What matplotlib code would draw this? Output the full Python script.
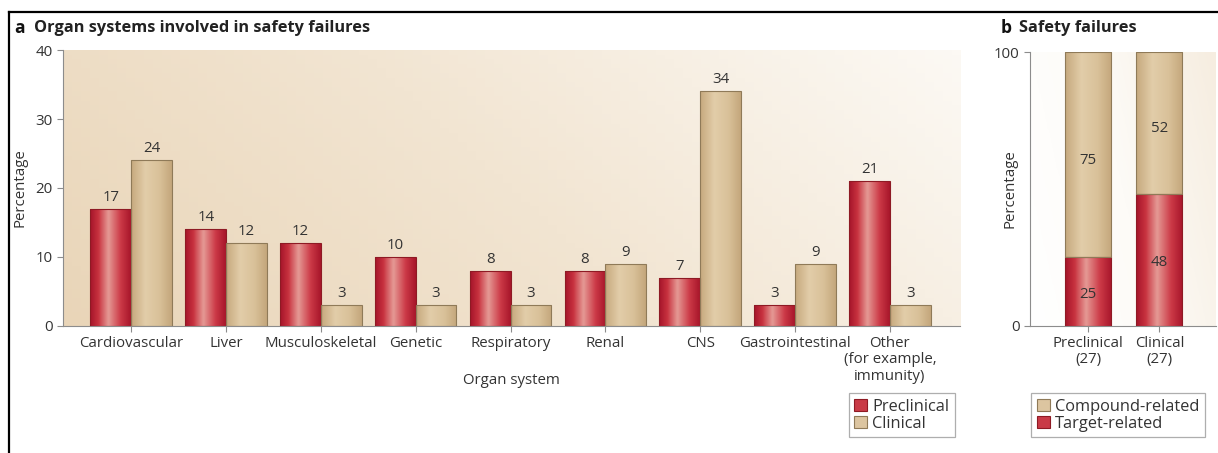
import numpy as np
import matplotlib.pyplot as plt
from matplotlib.colors import LinearSegmentedColormap
from matplotlib.patches import Patch
from matplotlib.lines import Line2D

plt.rcParams['font.family'] = ['Open Sans', 'DejaVu Sans']

# data
categories = ['Cardiovascular', 'Liver', 'Musculoskeletal', 'Genetic', 'Respiratory',
              'Renal', 'CNS', 'Gastrointestinal', 'Other\n(for example,\nimmunity)']
preclinical = [17, 14, 12, 10, 8, 8, 7, 3, 21]
clinical = [24, 12, 3, 3, 3, 9, 34, 9, 3]

b_groups = ['Preclinical\n(27)', 'Clinical\n(27)']
target_related = [25, 48]
compound_related = [75, 52]

txt = '#333333'
spine_c = '#8c8c8c'
fs = 10.8
red_cmap = LinearSegmentedColormap.from_list(
    'red', [(0, '#a5142a'), (0.2, '#c8323f'), (0.45, '#e59a95'), (0.75, '#cc3a47'), (1, '#a8162b')])
tan_cmap = LinearSegmentedColormap.from_list(
    'tan', [(0, '#c6a97e'), (0.35, '#e2cda9'), (0.7, '#d9c199'), (1, '#c4a77c')])
bg_cmap = LinearSegmentedColormap.from_list('bg', ['#e9d5b8', '#f2e5d2', '#fcf9f4'])


def shade(ax, bars, cmap, edge):
    grad = np.linspace(0, 1, 64).reshape(1, -1)
    for b in bars:
        x0, y0 = b.get_x(), b.get_y()
        w, h = b.get_width(), b.get_height()
        im = ax.imshow(grad, cmap=cmap, aspect='auto', extent=[x0, x0 + w, y0, y0 + h],
                       zorder=2, interpolation='bicubic')
        im.set_clip_path(b)
        b.set_facecolor('none')
        b.set_edgecolor(edge)
        b.set_linewidth(0.8)
        b.set_zorder(3)


def background(ax, cmap):
    xs = np.linspace(0, 1, 100)
    ys = np.linspace(0, 1, 60)
    X, Y = np.meshgrid(xs, ys)
    Z = 0.75 * X + 0.25 * Y
    ax.imshow(Z, cmap=cmap, aspect='auto', extent=[*ax.get_xlim(), *ax.get_ylim()],
              origin='lower', zorder=0, transform=ax.transData)


fig = plt.figure(figsize=(12.18, 4.53), dpi=100)

# panel a
ax = fig.add_axes([0.0517, 0.2804, 0.7365, 0.6092])
x = np.arange(len(categories))
w = 0.43
b1 = ax.bar(x - w / 2, preclinical, w)
b2 = ax.bar(x + w / 2, clinical, w)
ax.set_xlim(-0.72, 8.74)
ax.set_ylim(0, 40)
background(ax, bg_cmap)
shade(ax, b1, red_cmap, '#8e1a24')
shade(ax, b2, tan_cmap, '#8f7a58')
for bars, vals in ((b1, preclinical), (b2, clinical)):
    for b, v in zip(bars, vals):
        ax.annotate(str(v), (b.get_x() + b.get_width() / 2, v), xytext=(0, 3),
                    textcoords='offset points', ha='center', va='bottom', fontsize=fs, color=txt)
ax.set_xticks(x)
ax.set_xticklabels(categories, fontsize=fs, color=txt, linespacing=1.1)
ax.set_yticks([0, 10, 20, 30, 40])
ax.set_ylabel('Percentage', fontsize=fs, color=txt, va='center')
ax.yaxis.set_label_coords(-0.048, 0.5)
ax.set_xlabel('Organ system', fontsize=fs, color=txt)
ax.xaxis.set_label_coords(0.5, -0.196)
ax.xaxis.label.set_va('center')
for s in ('top', 'right'):
    ax.spines[s].set_visible(False)
for s in ('left', 'bottom'):
    ax.spines[s].set_color(spine_c)
ax.tick_params(colors=spine_c, labelcolor=txt, labelsize=fs, length=4, width=0.8)

# panel b
axb = fig.add_axes([0.8456, 0.2804, 0.1524, 0.6048])
xb = np.arange(len(b_groups))
wb = 0.65
t = axb.bar(xb, target_related, wb)
c = axb.bar(xb, compound_related, wb, bottom=target_related)
axb.set_xlim(-0.82, 1.79)
axb.set_ylim(0, 100)
background(axb, LinearSegmentedColormap.from_list('bgb', ['#ffffff', '#fdfbf7', '#f6ede0']))
shade(axb, t, red_cmap, '#8e1a24')
shade(axb, c, tan_cmap, '#8f7a58')
for i in range(len(b_groups)):
    axb.text(xb[i], target_related[i] / 2 - 1, str(target_related[i]), ha='center', va='center',
             fontsize=fs, color=txt, zorder=5)
    axb.text(xb[i], target_related[i] + compound_related[i] / 2 - 2, str(compound_related[i]),
             ha='center', va='center', fontsize=fs, color=txt, zorder=5)
axb.set_xticks(xb)
axb.set_xticklabels(b_groups, fontsize=fs, color=txt, linespacing=1.1)
axb.set_yticks([0, 100])
axb.set_ylabel('Percentage', fontsize=fs, color=txt, va='center')
axb.yaxis.set_label_coords(-0.107, 0.5)
for s in ('top', 'right'):
    axb.spines[s].set_visible(False)
for s in ('left', 'bottom'):
    axb.spines[s].set_color(spine_c)
axb.tick_params(colors=spine_c, labelcolor=txt, labelsize=fs, length=4, width=0.8)

# titles
ty = 1 - 28 / 453
fig.text(14 / 1218, ty, 'a', fontsize=12.5, fontweight='bold', color='#111111', va='center')
fig.text(34 / 1218, ty, 'Organ systems involved in safety failures', fontsize=11.8,
         fontweight='bold', color='#222222', va='center')
fig.text(1001 / 1218, ty, 'b', fontsize=12.5, fontweight='bold', color='#111111', va='center')
fig.text(1019 / 1218, ty, 'Safety failures', fontsize=11.8,
         fontweight='bold', color='#222222', va='center')

# legends
red_h = Patch(facecolor='#c93a46', edgecolor='#8e1a24', linewidth=0.8)
tan_h = Patch(facecolor='#dcc5a0', edgecolor='#8f7a58', linewidth=0.8)
leg_kw = dict(fontsize=11.8, frameon=True, fancybox=False, edgecolor='#9a9a9a',
              handlelength=0.8, handleheight=0.8, handletextpad=0.3, labelspacing=0.05,
              borderpad=0.35, borderaxespad=0, labelcolor=txt)
la = fig.legend([red_h, tan_h], ['Preclinical', 'Clinical'], loc='upper right',
                bbox_to_anchor=(955 / 1218, 1 - 393 / 453), **leg_kw)
lb = fig.legend([tan_h, red_h], ['Compound-related', 'Target-related'], loc='upper left',
                bbox_to_anchor=(1031 / 1218, 1 - 393 / 453), **leg_kw)
for lg in (la, lb):
    lg.get_frame().set_linewidth(0.9)

# outer frame lines
fig.add_artist(Line2D([9 / 1218, 1], [1 - 12 / 453] * 2, color='black', lw=1.6))
fig.add_artist(Line2D([9 / 1218] * 2, [0, 1 - 12 / 453], color='black', lw=1.6))

fig.savefig('out.png', dpi=100)
